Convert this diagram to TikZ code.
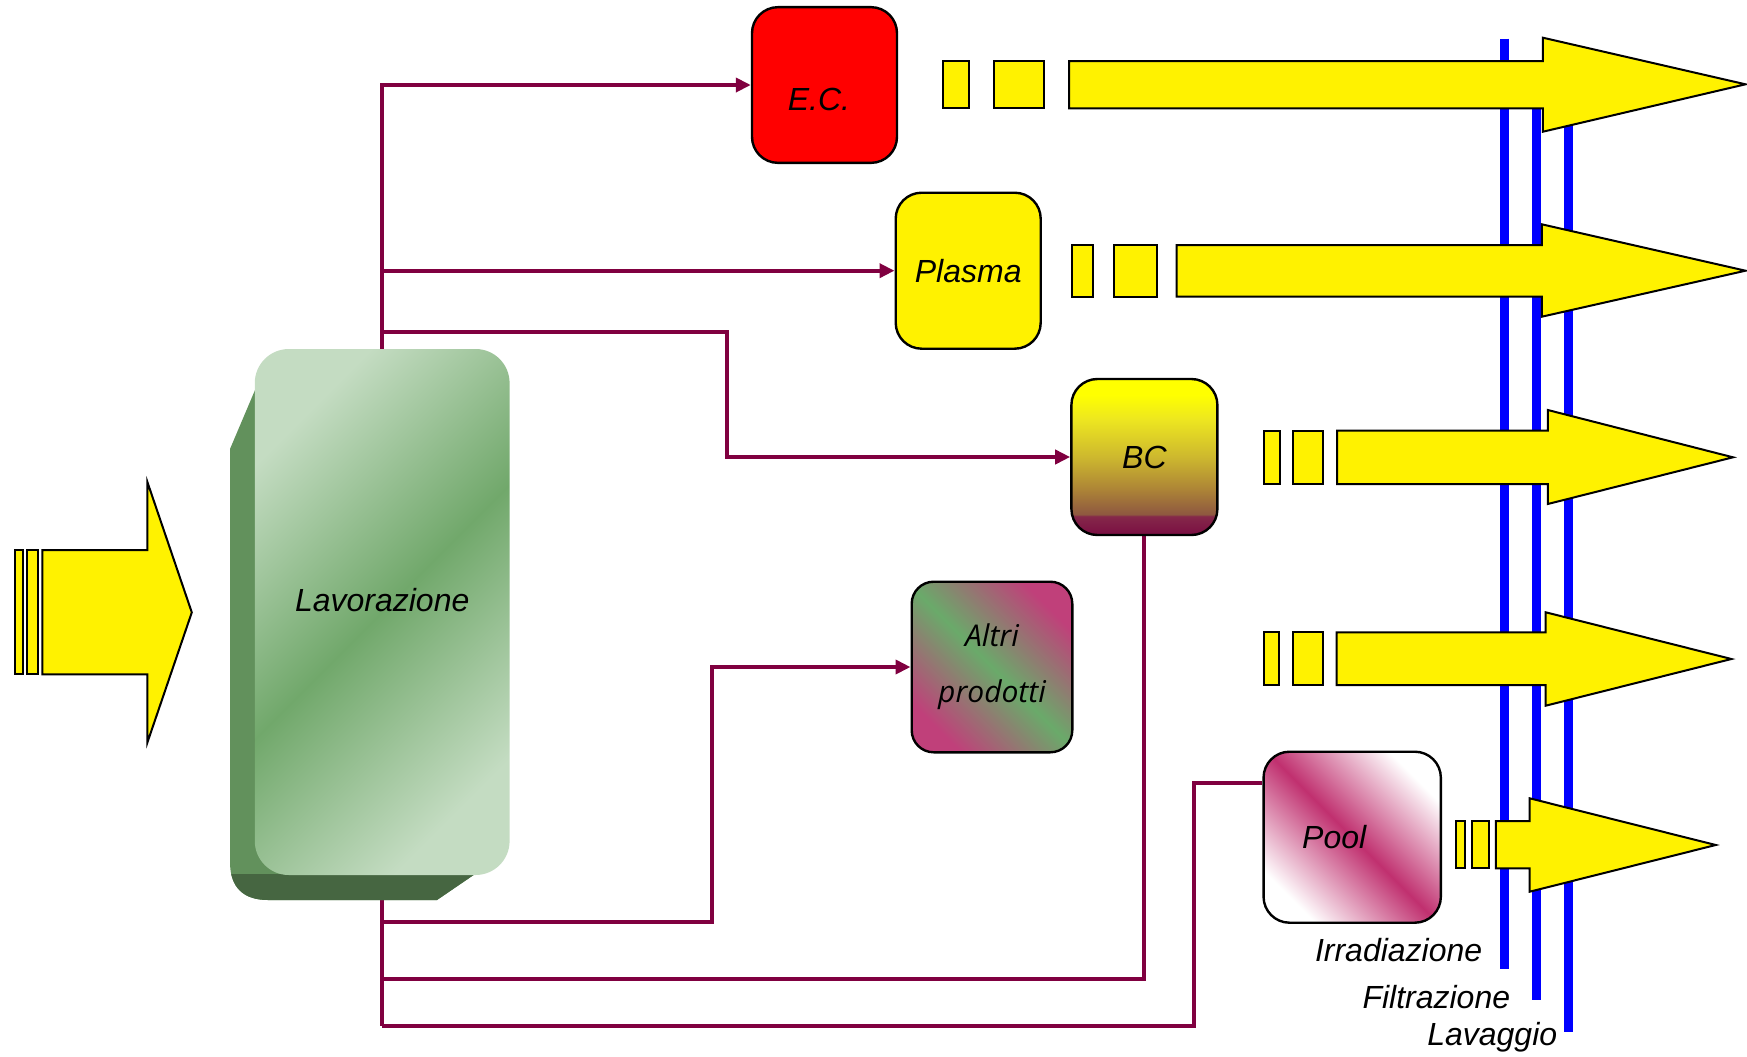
\documentclass[tikz,border=0pt]{standalone}
\usepackage{fontspec}
\setmainfont{Liberation Sans}
\newfontfamily\altrifont{Open Sans}
\usetikzlibrary{arrows.meta,backgrounds}
\definecolor{LavChiaro}{HTML}{C4DCC2}
\definecolor{LavVerde}{HTML}{71A86B}
\definecolor{LavLato}{HTML}{62915C}
\definecolor{LavFondo}{HTML}{466641}
\definecolor{Bordeaux}{HTML}{800040}
\definecolor{AltriMag}{HTML}{C0407A}
\definecolor{AltriVerde}{HTML}{6AAA6A}
\definecolor{PoolMag}{HTML}{C0306F}
\definecolor{BCfondo}{HTML}{7A0E42}
\definecolor{BCscuro}{HTML}{85284A}
\definecolor{BCbruno}{HTML}{8E5840}
\definecolor{BCocra}{HTML}{AE8636}
\definecolor{BColiva}{HTML}{CDB82E}
\definecolor{BCchiaro}{HTML}{EDE620}
\pgfdeclareverticalshading{bcsfumato}{100bp}{color(0bp)=(BCfondo); color(25bp)=(BCfondo);
  color(31bp)=(BCscuro); color(31.6bp)=(BCbruno); color(40bp)=(BCocra);
  color(50bp)=(BColiva); color(62bp)=(BCchiaro); color(70bp)=(yellow); color(100bp)=(yellow)}

\begin{document}
\begin{tikzpicture}[
  x=0.5pt, y=-0.5pt,
  every node/.style={font=\fontsize{16}{19}\selectfont\itshape, inner sep=0pt},
  scatola/.style={draw=black, line width=1.2pt, rounded corners=13pt},
  flusso/.style={draw=black, fill=yellow, line width=1pt},
  linea/.style={draw=Bordeaux, line width=2pt},
  freccia/.style={linea, -{Triangle[length=7.5pt, width=7pt]}},
  filtro/.style={draw=blue, line width=4.3pt},
]
\useasboundingbox (0,0) rectangle (1747,1056);

%% ── Filter lines ─────────────────────────────
\draw[filtro] (1504.5,38.5) -- (1504.5,969.3);
\draw[filtro] (1536.6,80)   -- (1536.6,1000);
\draw[filtro] (1568.2,90)   -- (1568.2,1031.7);

\node[anchor=base east] (irr)   at (1482.6,961.7) {Irradiazione};
\node[anchor=base east] (filt)  at (1510.5,1008.3) {Filtrazione};
\node[anchor=base east] (lavag) at (1557.6,1045)  {Lavaggio};

%% ── Input arrow ──────────────────────────────
\draw[flusso] (14.5,550) rectangle (22.7,674.4);
\draw[flusso] (26.5,550) rectangle (37.9,674.4);
\draw[flusso] (42.4,550) -- (147.4,550) -- (147.4,482) -- (191.8,612.4)
  -- (147.4,742.5) -- (147.4,674.4) -- (42.4,674.4) -- cycle;

%% ── Lavorazione block ────────────────────────
\fill[LavLato] (258,383) -- (230,449) -- (230,862)
  .. controls (230,888) and (244,900) .. (268,900)
  -- (437,900) -- (478,872) -- (478,400) -- cycle;
\begin{scope}
  \clip (200,874) rectangle (520,910);
  \fill[LavFondo] (258,383) -- (230,449) -- (230,862)
    .. controls (230,888) and (244,900) .. (268,900)
    -- (437,900) -- (478,872) -- (478,400) -- cycle;
\end{scope}
\node[rounded corners=17pt, minimum width=127.4pt, minimum height=263pt,
      top color=LavChiaro, bottom color=LavChiaro, middle color=LavVerde,
      shading angle=45, text height=11.5pt, text depth=12pt]
      (lav) at (382.2,612) {Lavorazione};

%% ── Products ─────────────────────────────────
\node[scatola, fill=red, minimum width=72.5pt, minimum height=77.85pt,
      text height=25.5pt, text depth=0pt] (ec) at (824.5,85) {\hspace*{-5.5pt}E.C.};
\node[scatola, fill=yellow, minimum width=72.5pt, minimum height=78pt]
      (plasma) at (968.2,270.7) {Plasma};
\node[scatola, shade, shading=bcsfumato, minimum width=73pt, minimum height=78pt]
      (bc) at (1144.4,457) {BC};
\node[scatola, rounded corners=11pt, minimum width=80.3pt, minimum height=85.3pt,
      top color=AltriMag, bottom color=AltriMag, middle color=AltriVerde,
      shading angle=-45, align=center,
      font=\altrifont\fontsize{15}{28}\selectfont\itshape]
      (altri) at (992,667) {Altri\\prodotti};
\node[scatola, minimum width=88.65pt, minimum height=85.5pt,
      top color=white, bottom color=white, middle color=PoolMag, shading angle=-45]
      (pool) at (1352.2,837.2) {\hspace*{-18pt}Pool};

%% ── Output arrows ────────────────────────────
\draw[flusso] (943.2,61) rectangle (969.2,108.3);
\draw[flusso] (993.5,61) rectangle (1044.2,108.3);
\draw[flusso] (1069.1,61) -- (1542.9,61) -- (1542.9,37.7) -- (1745.5,84.3)
  -- (1542.9,131.7) -- (1542.9,108.3) -- (1069.1,108.3) -- cycle;

\draw[flusso] (1071.8,245) rectangle (1092.9,296.7);
\draw[flusso] (1113.9,245) rectangle (1156.6,296.7);
\draw[flusso] (1176.6,245) -- (1541.8,245) -- (1541.8,224.3) -- (1745.5,270.7)
  -- (1541.8,316.7) -- (1541.8,296.7) -- (1176.6,296.7) -- cycle;

\draw[flusso] (1264.3,430.7) rectangle (1279.9,484);
\draw[flusso] (1293.3,430.7) rectangle (1323.2,484);
\draw[flusso] (1337,430.7) -- (1547.8,430.7) -- (1547.8,410) -- (1733,457.3)
  -- (1547.8,504) -- (1547.8,484) -- (1337,484) -- cycle;

\draw[flusso] (1263.8,632.3) rectangle (1278.7,685);
\draw[flusso] (1292.7,632.3) rectangle (1322.9,685);
\draw[flusso] (1336.5,632.3) -- (1545.7,632.3) -- (1545.7,612.3) -- (1731.4,659)
  -- (1545.7,705.7) -- (1545.7,685) -- (1336.5,685) -- cycle;

\draw[flusso] (1455.8,821) rectangle (1465.2,868.3);
\draw[flusso] (1471.5,821) rectangle (1488.9,868.3);
\draw[flusso] (1495.9,821) -- (1529.7,821) -- (1529.7,798.3) -- (1715.7,845)
  -- (1529.7,891.7) -- (1529.7,868.3) -- (1495.9,868.3) -- cycle;

%% ── Connectors ───────────────────────────────
\coordinate (gomitoBC)    at (727,332);
\coordinate (gomitoAltri) at (711.5,922);
\coordinate (nodoBC)      at (lav.south |- 0,979);
\coordinate (gomitoPool)  at (1194,1026);
\coordinate (nodoPool)    at (lav.south |- 0,1026);

\begin{scope}[on background layer]
\draw[freccia] (lav.north) |- (ec.west);
\draw[freccia] (lav.north) |- (plasma.west);
\draw[freccia] (lav.north) |- (gomitoBC) |- (bc.west);
\draw[freccia] (lav.south) |- (gomitoAltri) |- (altri.west);
\draw[linea]   (bc.south) |- (nodoBC);
\draw[linea]   (pool.149) -| (gomitoPool) -- (nodoPool);
\draw[linea]   (lav.south) -- (nodoPool);
\end{scope}

\end{tikzpicture}
\end{document}
